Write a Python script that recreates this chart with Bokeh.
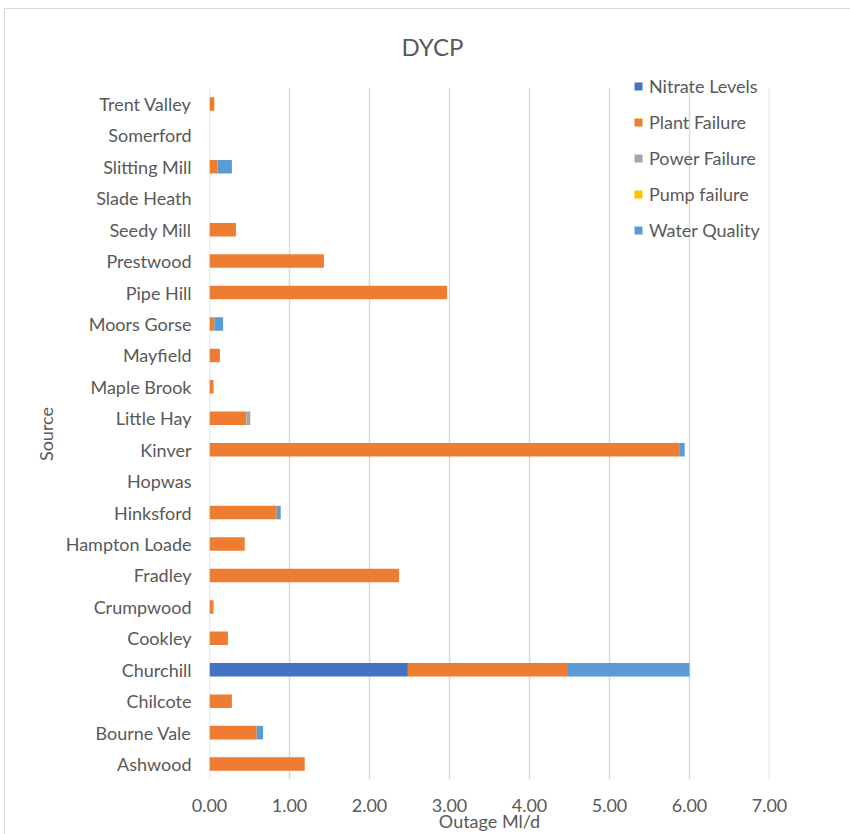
from bokeh.plotting import figure
from bokeh.models import FactorRange, Range1d, NumeralTickFormatter, Legend, FixedTicker, InlineStyleSheet
from bokeh.embed import file_html
from bokeh.resources import INLINE

# Sources, listed bottom to top
sources = ["Ashwood", "Bourne Vale", "Chilcote", "Churchill", "Cookley", "Crumpwood",
           "Fradley", "Hampton Loade", "Hinksford", "Hopwas", "Kinver", "Little Hay",
           "Maple Brook", "Mayfield", "Moors Gorse", "Pipe Hill", "Prestwood", "Seedy Mill",
           "Slade Heath", "Slitting Mill", "Somerford", "Trent Valley"]

# Outage by cause (Ml/d)
nitrate_levels = [0, 0, 0, 2.48, 0, 0, 0, 0, 0, 0, 0, 0, 0, 0, 0, 0, 0, 0, 0, 0, 0, 0]
plant_failure = [1.19, 0.59, 0.28, 1.99, 0.23, 0.05, 2.37, 0.44, 0.84, 0, 5.88, 0.46,
                 0.05, 0.13, 0.06, 2.97, 1.43, 0.33, 0, 0.10, 0, 0.06]
power_failure = [0, 0, 0, 0, 0, 0, 0, 0, 0, 0, 0, 0.05, 0, 0, 0, 0, 0, 0, 0, 0, 0, 0]
pump_failure = [0] * 22
water_quality = [0, 0.08, 0, 1.53, 0, 0, 0, 0, 0.05, 0, 0.06, 0, 0, 0, 0.11, 0, 0, 0, 0, 0.18, 0, 0]

causes = ["Nitrate Levels", "Plant Failure", "Power Failure", "Pump failure", "Water Quality"]
colors = ["#4472C4", "#ED7D31", "#A5A5A5", "#FFC000", "#5B9BD5"]
x_ticks = [0, 1, 2, 3, 4, 5, 6, 7]

data = {"source": sources,
        "Nitrate Levels": nitrate_levels,
        "Plant Failure": plant_failure,
        "Power Failure": power_failure,
        "Pump failure": pump_failure,
        "Water Quality": water_quality}

FONT = "Lato"
GREY = "#595959"

# absolute padding above/below the category bands leaves room for the legend
y_range = FactorRange(*sources, range_padding=0.5, range_padding_units="absolute")

# thin chart-area border along the left and top edges
chart_border = InlineStyleSheet(css="""
:host::after {
  content: "";
  position: absolute;
  left: 4px; top: 8px; right: 0; bottom: 0;
  border-left: 1px solid #d9d9d9;
  border-top: 1px solid #d9d9d9;
  pointer-events: none;
  z-index: 10;
}
""")

p = figure(width=850, height=834, y_range=y_range, x_range=Range1d(0, 7),
           output_backend="svg", toolbar_location=None,
           min_border_left=209, min_border_right=81, min_border_top=72, min_border_bottom=37,
           stylesheets=[chart_border])

# vertical gridlines spanning only the category bands
p.segment(x0=x_ticks, x1=x_ticks,
          y0=[(sources[0], -0.5)] * len(x_ticks), y1=[(sources[-1], 0.5)] * len(x_ticks),
          line_color="#d9d9d9", line_width=1.5)

renderers = p.hbar_stack(causes, y="source", height=0.43, color=colors, line_color=None, source=data)

p.title.text = "DYCP"
p.title.align = "left"
p.title.offset = 192
p.title.text_font = FONT
p.title.text_font_size = "24px"
p.title.text_font_style = "normal"
p.title.text_color = GREY
p.title.standoff = 24

p.outline_line_color = None
p.xgrid.grid_line_color = None
p.ygrid.grid_line_color = None

# Value axis
p.xaxis.ticker = FixedTicker(ticks=x_ticks)
p.xaxis.formatter = NumeralTickFormatter(format="0.00")
p.xaxis.axis_line_color = None
p.xaxis.major_tick_line_color = None
p.xaxis.minor_tick_line_color = None
p.xaxis.major_label_text_font = FONT
p.xaxis.major_label_text_font_size = "18px"
p.xaxis.major_label_text_color = GREY
p.xaxis.major_label_standoff = -3
p.xaxis.axis_label = "Outage Ml/d"
p.xaxis.axis_label_text_font = FONT
p.xaxis.axis_label_text_font_size = "18px"
p.xaxis.axis_label_text_font_style = "normal"
p.xaxis.axis_label_text_color = GREY
p.xaxis.axis_label_standoff = -5

# Category axis
p.yaxis.axis_line_color = None
p.yaxis.major_tick_line_color = None
p.yaxis.minor_tick_line_color = None
p.yaxis.major_label_text_font = FONT
p.yaxis.major_label_text_font_size = "18px"
p.yaxis.major_label_text_color = GREY
p.yaxis.major_label_standoff = 12
p.yaxis.axis_label = "Source"
p.yaxis.axis_label_text_font = FONT
p.yaxis.axis_label_text_font_size = "18px"
p.yaxis.axis_label_text_font_style = "normal"
p.yaxis.axis_label_text_color = GREY
p.yaxis.axis_label_standoff = 6

legend = Legend(items=[(c, [r]) for c, r in zip(causes, renderers)],
                location=(424, 554), orientation="vertical",
                background_fill_alpha=0, border_line_color=None,
                padding=0, margin=0, spacing=14,
                glyph_width=10, glyph_height=10, label_height=20, label_standoff=6,
                label_text_font=FONT, label_text_font_size="18px", label_text_color=GREY)
p.add_layout(legend, "center")

open("out.html", "w").write(file_html(p, INLINE))
